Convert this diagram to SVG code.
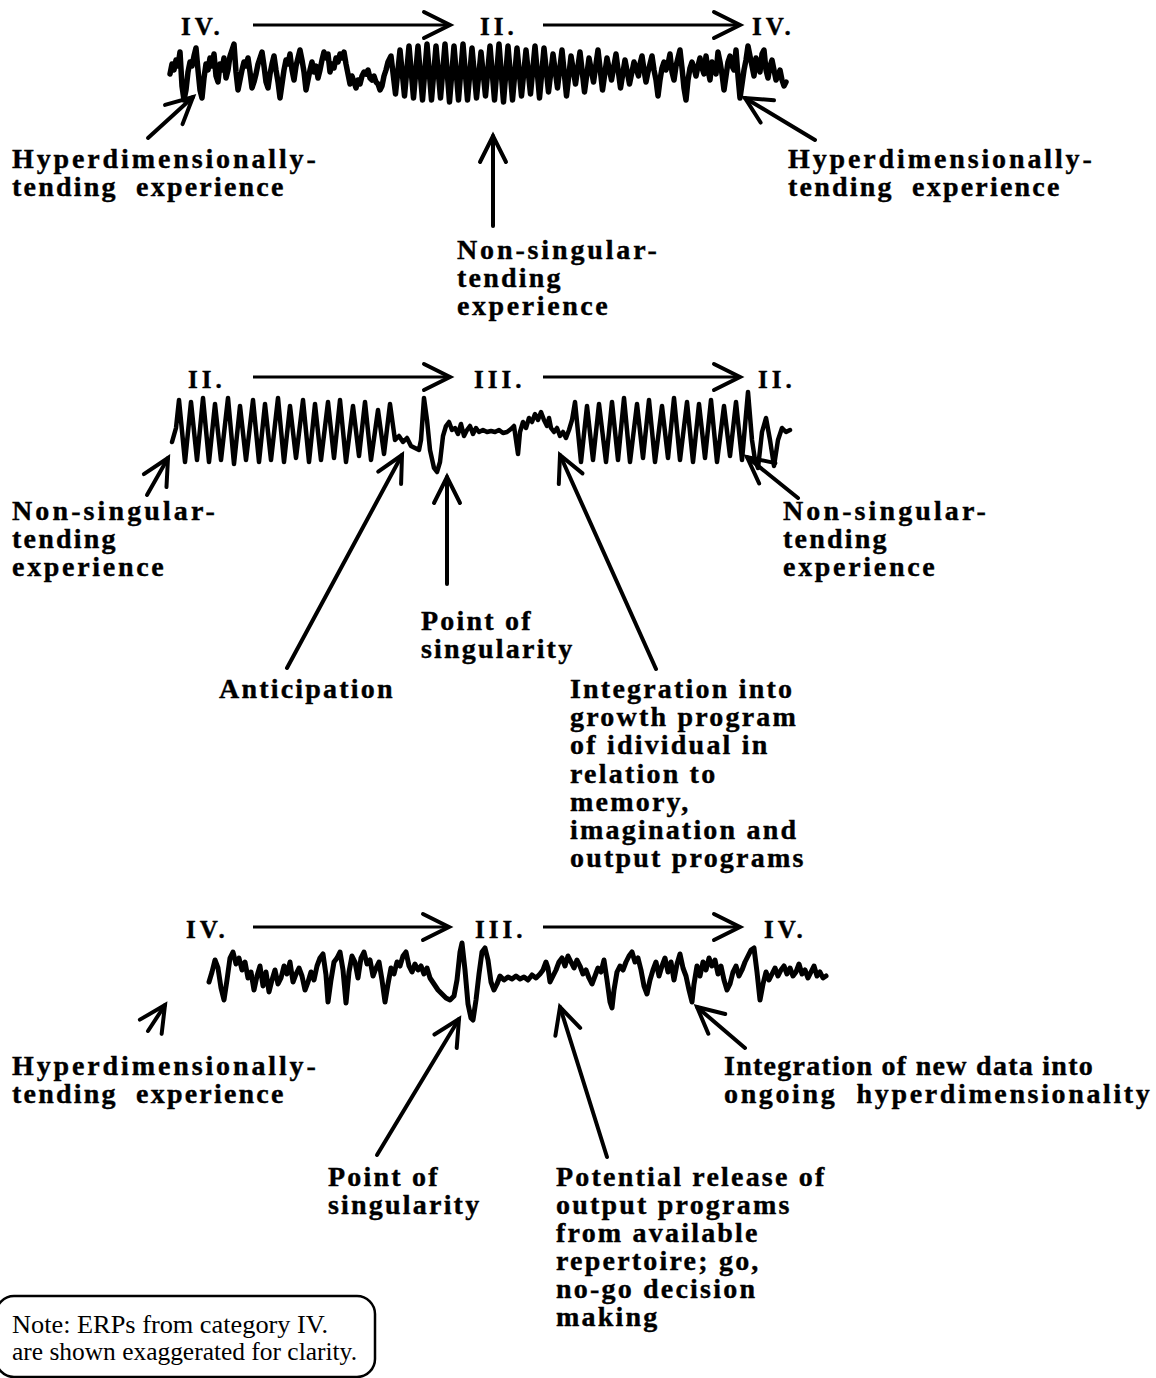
<svg xmlns="http://www.w3.org/2000/svg" width="1156" height="1378" viewBox="0 0 1156 1378">
<defs>
<style>
.lbl { font-family: "Liberation Serif", "Times New Roman", serif; font-weight: bold; font-size: 28px; letter-spacing: 2.2px; fill: #000; stroke: #000; stroke-width: 0.4px; white-space: pre; }
.num { font-family: "Liberation Serif", "Times New Roman", serif; font-weight: bold; font-size: 25px; letter-spacing: 4px; fill: #000; stroke: #000; stroke-width: 0.4px; }
.note { font-family: "Liberation Serif", "Times New Roman", serif; font-size: 25px; fill: #000; }
.wave { fill: none; stroke: #000; stroke-linejoin: round; stroke-linecap: round; }
.flow { fill: none; stroke: #000; stroke-width: 3; marker-end: url(#head); }
.ptr { fill: none; stroke: #000; stroke-width: 4; stroke-linecap: round; marker-end: url(#head); }
.box { fill: none; stroke: #000; stroke-width: 2.5; }
</style>
<marker id="head" markerUnits="userSpaceOnUse" viewBox="-30 -16 34 32" refX="0" refY="0" markerWidth="34" markerHeight="32" orient="auto" overflow="visible">
<path d="M-26,-13 L0,0 L-26,13" fill="none" stroke="#000" stroke-width="4" stroke-linecap="round" stroke-linejoin="miter"/>
</marker>
</defs>
<rect width="1156" height="1378" fill="#fff"/>

<!-- EEG traces -->
<g id="trace-top">
<polyline class="wave" stroke-width="5.5" points="170,74 172,64 174,70 176,60 178,66 180,52 182,86 184,100 186,90 188,72 190,62 192,66 194,56 196,48 198,70 200,90 202,98 204,78 206,64 208,70 210,58 212,66 214,54 216,76 218,82 220,64 222,70 224,58 226,78 228,70 230,56 232,50 234,44 236,72 238,90 240,80 242,70 244,62 246,66 248,58 250,72 252,88 254,82 256,74 258,64 260,58 262,52 264,66 266,82 268,88 270,74 272,64 274,56 276,70 278,82 280,98 282,84 284,70 286,60 288,64 290,54 292,70 294,80 296,66 298,58 300,50 302,60 304,72 306,90 308,80 310,70 312,62 314,72 316,66 318,78 320,70 322,60 324,52 326,58 328,54 330,72 332,64 334,68 336,58 338,62 340,54 342,58 344,52 346,64 348,74 350,84 352,76 354,82 356,88 358,80 360,84 362,76 364,72 366,74 368,70 370,78 372,80 374,76 376,82 378,84 380,90 382,86 384,76 386,70 388,62 391,56 395.5,94 400,50 404.5,96 409,46 413.5,98 418,46 422.5,100 427,44 431.5,100 436,46 440.5,98 445,44 449.5,102 454,46 458.5,100 463,44 467.5,100 472,48 476.5,98 481,52 485.5,96 490,46 494.5,100 499,44 503.5,102 508,46 512.5,100 517,48 521.5,96 526,50 530.5,94 535,46 539.5,98 544,48 548.5,92 553,54 557.5,88 562,50 566.5,96 571,56 575.5,84 580,52 584.5,92 589,58 593.5,82 598,50 602.5,90 607,58 611.5,80 616,54 620.5,88 625,60 629.5,84 634,62 638.5,76 640,64 642,56 644,70 646,82 648,72 650,64 652,56 654,70 656,80 658,96 660,80 662,68 664,62 666,70 668,64 670,54 672,72 674,80 676,66 678,58 680,50 682,68 684,88 686,100 688,80 690,68 692,62 694,68 696,76 698,66 700,58 702,68 704,74 706,56 708,70 710,80 712,62 714,68 716,74 718,52 720,62 722,74 724,90 726,76 728,62 730,56 732,66 734,70 736,50 738,76 740,98 742,84 744,70 746,60 748,46 750,56 752,66 754,76 756,58 758,64 760,72 762,54 764,50 766,70 768,78 770,66 772,60 774,70 776,80 778,76 780,70 782,80 784,86 786,82"/>
</g>
<g id="trace-middle">
<polyline class="wave" stroke-width="4.5" points="172,442 176,428 179,400 185,462 191,402 197,460 203,398 209,462 215,404 221,460 228,398 234,464 240,406 246,460 253,400 259,462 265,404 271,460 278,398 284,462 290,406 296,458 303,400 309,462 315,404 321,460 328,402 334,458 340,400 346,462 353,406 359,456 365,402 371,460 378,410 384,454 390,404 395,440 399,436 403,442 407,438 411,446 415,448 419,450 421,440 424,398 427,420 430,450 434,468 437,472 440,462 443,436 446,426 449,422 452,430 455,428 458,434 461,424 464,436 467,430 470,426 473,434 476,428 479,432 483,430 487,432 491,431 495,432 499,430 503,433 507,432 511,429 514,426 516,440 518,454 520,432 523,422 526,428 529,418 532,422 535,414 538,420 541,412 544,420 547,426 549,418 551,428 554,432 557,428 560,436 563,432 566,438 569,430 572,420 575,402 581,462 587,406 593,460 599,404 606,462 612,402 618,460 624,398 630,462 637,404 643,458 649,400 655,462 662,406 668,458 674,398 680,460 687,402 693,462 699,404 705,458 711,400 717,462 724,406 730,456 736,402 742,460 748,392 752,440 755,460 758,468 762,432 766,418 770,440 774,466 778,440 782,428 786,432 790,430"/>
</g>
<g id="trace-bottom">
<polyline class="wave" stroke-width="5" points="209,982 212,972 215,960 218,968 221,988 224,1000 227,980 230,958 233,952 236,964 239,958 242,970 245,962 248,978 251,972 254,990 257,976 260,966 263,986 266,972 269,992 272,980 275,970 278,984 281,978 284,966 287,974 290,962 293,982 296,974 299,968 302,976 305,990 308,982 311,972 314,980 317,966 320,958 323,954 326,975 328,1002 331,980 334,962 337,958 340,952 343,970 346,1003 349,972 352,956 355,962 358,978 361,958 364,952 367,964 370,960 373,976 376,968 379,962 382,980 385,1002 388,984 391,968 394,974 397,962 400,966 403,956 406,952 409,966 412,972 415,964 418,970 421,966 424,974 427,968 430,978 434,984 438,990 442,994 446,998 450,1000 454,996 457,980 460,952 462,943 465,970 468,1004 471,1018 473,1020 476,1000 479,974 482,952 485,948 488,960 491,982 494,990 497,984 500,976 504,980 508,977 512,979 516,976 520,979 524,977 528,980 532,975 536,978 540,974 543,970 546,962 548,968 550,982 553,976 556,970 559,962 562,958 565,966 568,956 571,962 574,968 577,960 580,966 583,974 586,970 589,978 592,984 595,976 598,968 601,972 604,960 607,980 610,1002 612,1008 614,990 617,972 620,966 623,970 626,962 629,956 632,952 635,962 638,958 641,970 644,986 647,994 650,980 653,970 656,962 659,976 662,966 665,958 668,972 671,962 674,980 677,964 680,954 683,968 686,976 689,990 692,1002 694,984 697,966 700,976 703,962 706,970 709,958 712,966 715,960 718,974 721,966 724,980 727,990 730,984 733,972 736,966 739,976 742,970 745,962 748,956 751,950 754,948 757,972 760,1000 763,984 766,972 769,980 772,974 775,968 778,976 781,970 784,966 787,974 790,968 793,976 796,972 799,964 802,974 805,970 808,978 811,972 814,966 817,976 820,972 823,978 826,976"/>
</g>

<!-- category markers -->
<g id="cat-top">
<text class="num" x="181" y="35">IV.</text>
<text class="num" x="480" y="35">II.</text>
<text class="num" x="752" y="35">IV.</text>
</g>
<g id="cat-middle">
<text class="num" x="188" y="388">II.</text>
<text class="num" x="474" y="388">III.</text>
<text class="num" x="758" y="388">II.</text>
</g>
<g id="cat-bottom">
<text class="num" x="186" y="938">IV.</text>
<text class="num" x="475" y="938">III.</text>
<text class="num" x="764" y="938">IV.</text>
</g>

<!-- labels -->
<g id="lbl-hyper-top-left">
<text class="lbl" x="12" y="168" textLength="306" lengthAdjust="spacing">Hyperdimensionally-</text>
<text class="lbl" x="12" y="196">tending  experience</text>
</g>
<g id="lbl-hyper-top-right">
<text class="lbl" x="788" y="168" textLength="306" lengthAdjust="spacing">Hyperdimensionally-</text>
<text class="lbl" x="788" y="196">tending  experience</text>
</g>
<g id="lbl-nonsing-top">
<text class="lbl" x="457" y="259" textLength="202" lengthAdjust="spacing">Non-singular-</text>
<text class="lbl" x="457" y="287">tending</text>
<text class="lbl" x="457" y="315" textLength="153" lengthAdjust="spacing">experience</text>
</g>

<g id="lbl-nonsing-mid-left">
<text class="lbl" x="12" y="520" textLength="205" lengthAdjust="spacing">Non-singular-</text>
<text class="lbl" x="12" y="548">tending</text>
<text class="lbl" x="12" y="576" textLength="154" lengthAdjust="spacing">experience</text>
</g>
<g id="lbl-nonsing-mid-right">
<text class="lbl" x="783" y="520" textLength="205" lengthAdjust="spacing">Non-singular-</text>
<text class="lbl" x="783" y="548">tending</text>
<text class="lbl" x="783" y="576" textLength="154" lengthAdjust="spacing">experience</text>
</g>
<g id="lbl-point-mid"><text class="lbl"><tspan x="421" y="630">Point of</tspan><tspan x="421" y="658">singularity</tspan></text></g>
<g id="lbl-anticipation"><text class="lbl" x="219" y="698">Anticipation</text></g>
<g id="lbl-integration-growth"><text class="lbl"><tspan x="570" y="698">Integration into</tspan><tspan x="570" y="726">growth program</tspan><tspan x="570" y="754">of idividual in</tspan><tspan x="570" y="783">relation to</tspan><tspan x="570" y="811">memory,</tspan><tspan x="570" y="839">imagination and</tspan><tspan x="570" y="867">output programs</tspan></text></g>

<g id="lbl-hyper-bottom-left">
<text class="lbl" x="12" y="1075" textLength="306" lengthAdjust="spacing">Hyperdimensionally-</text>
<text class="lbl" x="12" y="1103">tending  experience</text>
</g>
<g id="lbl-integration-new">
<text class="lbl" x="724" y="1075" textLength="371" lengthAdjust="spacing">Integration of new data into</text>
<text class="lbl" x="724" y="1103" textLength="428" lengthAdjust="spacing">ongoing  hyperdimensionality</text>
</g>
<g id="lbl-point-bottom"><text class="lbl"><tspan x="328" y="1186">Point of</tspan><tspan x="328" y="1214">singularity</tspan></text></g>
<g id="lbl-release"><text class="lbl"><tspan x="556" y="1186">Potential release of</tspan><tspan x="556" y="1214">output programs</tspan><tspan x="556" y="1242">from available</tspan><tspan x="556" y="1270">repertoire; go,</tspan><tspan x="556" y="1298">no-go decision</tspan><tspan x="556" y="1326">making</tspan></text></g>

<g id="note">
<rect class="box" x="-4" y="1296" width="379" height="81" rx="18" ry="18"/>
<text class="note" x="12" y="1333" textLength="316" lengthAdjust="spacingAndGlyphs">Note: ERPs from category IV.</text>
<text class="note" x="12" y="1360" textLength="345" lengthAdjust="spacingAndGlyphs">are shown exaggerated for clarity.</text>
</g>

<!-- connectors -->
<g id="connectors">
<line class="flow" x1="253" y1="25" x2="450" y2="25"/>
<line class="flow" x1="543" y1="25" x2="740" y2="25"/>
<line class="flow" x1="253" y1="377" x2="450" y2="377"/>
<line class="flow" x1="543" y1="377" x2="740" y2="377"/>
<line class="flow" x1="253" y1="927" x2="449" y2="927"/>
<line class="flow" x1="543" y1="927" x2="740" y2="927"/>

<line class="ptr" x1="148" y1="138" x2="193" y2="97"/>
<line class="ptr" x1="815" y1="140" x2="745" y2="98"/>
<line class="ptr" x1="493" y1="226" x2="493" y2="136"/>

<line class="ptr" x1="147" y1="495" x2="168" y2="458"/>
<line class="ptr" x1="287" y1="668" x2="402" y2="455"/>
<line class="ptr" x1="447" y1="584" x2="447" y2="477"/>
<line class="ptr" x1="656" y1="669" x2="560" y2="455"/>
<line class="ptr" x1="798" y1="498" x2="747" y2="457"/>

<line class="ptr" x1="148" y1="1031" x2="165" y2="1005"/>
<line class="ptr" x1="377" y1="1155" x2="459" y2="1019"/>
<line class="ptr" x1="607" y1="1157" x2="560" y2="1007"/>
<line class="ptr" x1="745" y1="1048" x2="697" y2="1007"/>
</g>
</svg>
